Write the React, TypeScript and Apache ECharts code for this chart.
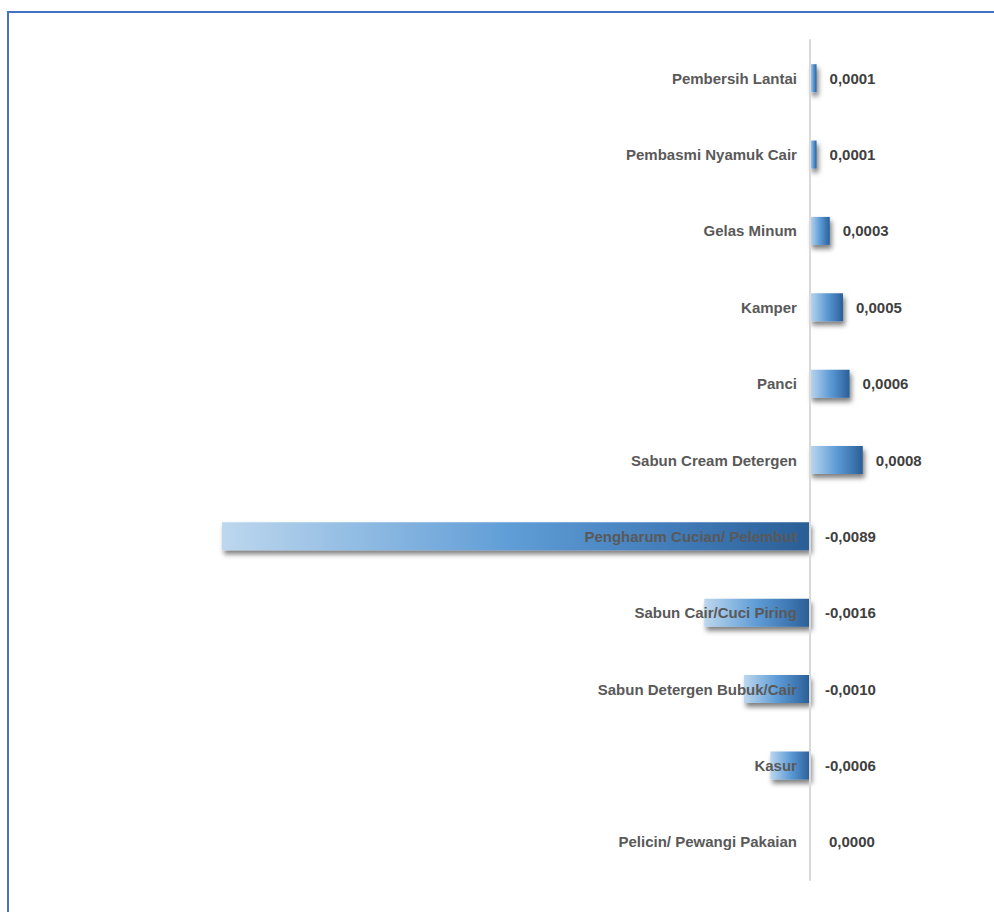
import React, { useEffect, useRef } from "react";
import * as echarts from "echarts";

const categories = [
  "Pembersih Lantai",
  "Pembasmi Nyamuk Cair",
  "Gelas Minum",
  "Kamper",
  "Panci",
  "Sabun Cream Detergen",
  "Pengharum Cucian/ Pelembut",
  "Sabun Cair/Cuci Piring",
  "Sabun Detergen Bubuk/Cair",
  "Kasur",
  "Pelicin/ Pewangi Pakaian",
];

const values = [0.0001, 0.0001, 0.0003, 0.0005, 0.0006, 0.0008, -0.0089, -0.0016, -0.001, -0.0006, 0.0];

const X_MIN = -0.0089;
const X_MAX = 0.001;

const fmt = (v: number) => v.toFixed(4).replace(".", ",");

export default function App() {
  const ref = useRef<HTMLDivElement>(null);
  useEffect(() => {
    if (!ref.current) return;
    const chart = echarts.init(ref.current, null, { renderer: "svg" });
    const gridLeft = 222;
    const gridRight = 118;
    const gridWidth = 994 - gridLeft - gridRight;
    const zeroOffset = (gridWidth * (0 - X_MIN)) / (X_MAX - X_MIN);
    const grad = new echarts.graphic.LinearGradient(0, 0, 1, 0, [
      { offset: 0, color: "#BDD7EE" },
      { offset: 0.5, color: "#5E9CD6" },
      { offset: 0.8, color: "#3F78B4" },
      { offset: 1, color: "#2A5E95" },
    ]);
    chart.setOption({
      animation: false,
      backgroundColor: "#ffffff",
      graphic: [
        {
          type: "rect",
          shape: { x: 8, y: 12, width: 1000, height: 1000 },
          style: { fill: "none", stroke: "#4472C4", lineWidth: 2 },
          silent: true,
          z: 0,
        },
      ],
      grid: { left: gridLeft, right: gridRight, top: 40, bottom: 32, containLabel: false },
      xAxis: {
        type: "value",
        min: X_MIN,
        max: X_MAX,
        show: false,
      },
      yAxis: {
        type: "category",
        data: categories,
        inverse: true,
        position: "left",
        offset: -zeroOffset,
        z: 10,
        axisLine: { show: true, onZero: false, lineStyle: { color: "#D9D9D9", width: 2 } },
        axisTick: { show: false },
        splitLine: { show: false },
        axisLabel: {
          margin: 13,
          fontSize: 15,
          fontWeight: "bold",
          color: "#595959",
          padding: [0, 0, 2, 0],
          fontFamily: "Liberation Sans, Arial, sans-serif",
        },
      },
      series: [
        {
          type: "bar",
          barWidth: 28,
          data: values.map((v) => ({
            value: v,
            label: { distance: v < 0 ? 15 : v === 0 ? 19 : 13 },
          })),
          itemStyle: {
            color: grad,
            shadowColor: "rgba(0,0,0,0.5)",
            shadowBlur: 5,
            shadowOffsetX: 2,
            shadowOffsetY: 4,
          },
          label: {
            show: true,
            position: "right",
            fontSize: 15,
            fontWeight: "bold",
            color: "#404040",
            fontFamily: "Liberation Sans, Arial, sans-serif",
            formatter: (p: any) => fmt(p.value),
          },
        },
      ],
    });
    return () => chart.dispose();
  }, []);
  return (
    <div
      ref={ref}
      style={{ position: "absolute", left: 0, top: 0, width: 994, height: 912 }}
    />
  );
}
